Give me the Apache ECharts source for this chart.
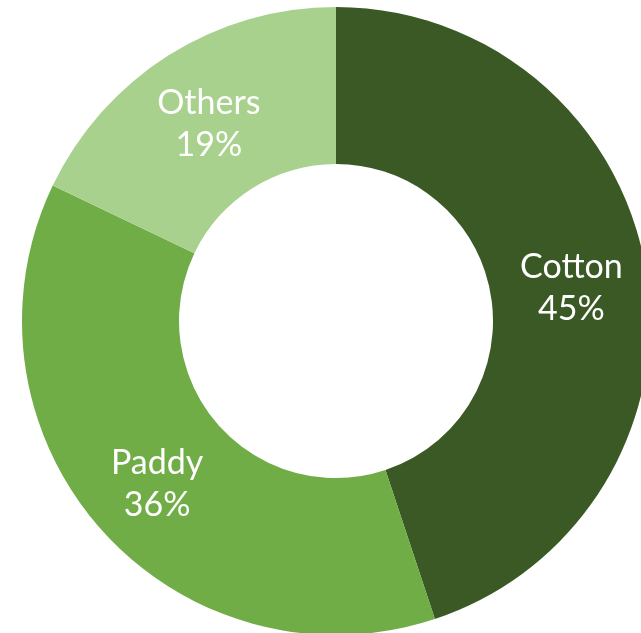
<!DOCTYPE html>
<html>
<head>
<meta charset="utf-8">
<script src="https://cdn.jsdelivr.net/npm/echarts@6/dist/echarts.min.js"></script>
<style>
html,body{margin:0;padding:0;background:#fff;}
#chart{width:641px;height:633px;}
</style>
</head>
<body>
<div id="chart"></div>
<script>
// Data
const categories = ["Cotton", "Paddy", "Others"];
const shares = [44.9, 37.2, 17.9];           // slice sizes
const shareLabels = ["45%", "36%", "19%"];   // printed labels
const colors = ["#3B5925", "#70AD47", "#A9D18E"];

const chart = echarts.init(document.getElementById('chart'), null, {renderer: 'canvas'});
chart.setOption({
  animation: false,
  series: [{
    type: 'pie',
    center: [336, 321],
    radius: [157, 314],
    startAngle: 90,
    clockwise: true,
    avoidLabelOverlap: false,
    silent: true,
    itemStyle: { borderWidth: 0 },
    label: {
      show: true,
      position: 'inside',
      color: '#ffffff',
      fontFamily: 'Lato',
      fontSize: 34,
      lineHeight: 42,
      align: 'center',
      offset: [0, 5],
      formatter: function (p) { return p.name + '\n' + shareLabels[p.dataIndex]; }
    },
    labelLine: { show: false },
    data: categories.map(function (c, i) {
      return { name: c, value: shares[i], itemStyle: { color: colors[i] } };
    })
  }]
});
</script>
</body>
</html>
